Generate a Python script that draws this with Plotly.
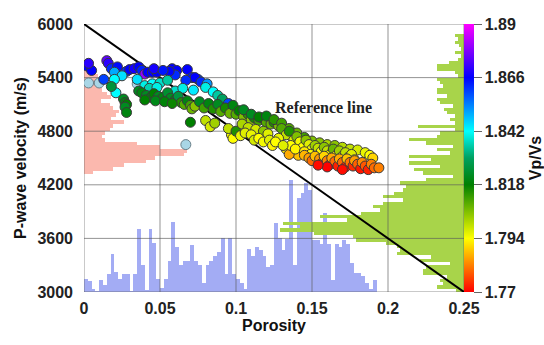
import numpy as np
import plotly.graph_objects as go

# ---------------- data ----------------
x_ticks = [0, 0.05, 0.1, 0.15, 0.2, 0.25]
x_ticktext = ["0", "0.05", "0.1", "0.15", "0.2", "0.25"]
y_ticks = [3000, 3600, 4200, 4800, 5400, 6000]
cb_ticks = [1.77, 1.794, 1.818, 1.842, 1.866, 1.89]

# porosity histogram (bottom, blue): bin width 0.0025 starting at 0, top value in m/s
phi_bin = 0.0025
phi_hist_top = [3150, 3120, 3030, 3010, 3130, 3080, 3200, 3420, 3220, 3150,
                3200, 3200, 3010, 3200, 3700, 3300, 3020, 3700, 3550, 3150,
                3050, 3150, 3350, 3780, 3500, 3300, 3350, 3350, 3530, 3350,
                3300, 3100, 3300, 3350, 3400, 3450, 3600, 3200, 3600, 3200,
                3150, 3100, 3030, 3480, 3400, 3500, 3470, 3400, 3280, 3300,
                3770, 3600, 3470, 3590, 4250, 3300, 4050, 4110, 4220, 4140,
                3580, 3580, 3540, 3880, 3540, 3130, 3540, 3500, 3580, 3540,
                3320, 3210, 3210, 3180, 3100, 3030, 3130]

# velocity histogram (left, pink): bins of 40 m/s from 4320
pink_start, pink_bin = 4320, 40
pink_len = [0.006, 0.019, 0.026, 0.041, 0.047, 0.066, 0.068, 0.050, 0.035, 0.014,
            0.012, 0.014, 0.017, 0.019, 0.026, 0.018, 0.021, 0.023, 0.019, 0.017,
            0.011, 0.018, 0.015, 0.012, 0.009, 0.010, 0.010, 0.009, 0.006, 0.003]

# velocity histogram (right, green): bins of 37.5 m/s from 3000, measured leftwards from 0.25
green_start, green_bin = 3000, 37.5
green_len = [0.005, 0.018, 0.014, 0.016, 0.011, 0.027, 0.027, 0.025, 0.009, 0.029, 0.022,
             0.044, 0.042, 0.044, 0.051, 0.071, 0.073, 0.099, 0.121, 0.108, 0.119,
             0.077, 0.095, 0.068, 0.055, 0.060, 0.053, 0.040, 0.053, 0.046, 0.040,
             0.038, 0.042, 0.025, 0.007, 0.027, 0.033, 0.016, 0.036, 0.022, 0.036,
             0.009, 0.018, 0.007, 0.025, 0.036, 0.018, 0.016, 0.006, 0.030, 0.006,
             0.009, 0.006, 0.011, 0.013, 0.007, 0.016, 0.018, 0.011, 0.018, 0.018,
             0.014, 0.016, 0.018, 0.004, 0.006, 0.018, 0.018, 0.010, 0.004, 0.002,
             0.006, 0.002, 0.003, 0.006, 0.004, 0.006]

# reference line end points
ref_phi = [0.0, 0.25]
ref_vp = [6000, 3000]

# scatter points: porosity, Vp, Vp/Vs
pts = [
    # blue upper band
    (0.002, 5530, 1.866), (0.005, 5480, 1.866), (0.003, 5560, 1.870), (0.015, 5590, 1.875),
    (0.016, 5560, 1.870), (0.018, 5500, 1.862), (0.022, 5520, 1.865), (0.028, 5470, 1.862),
    (0.030, 5490, 1.866), (0.033, 5500, 1.868), (0.036, 5520, 1.866), (0.038, 5480, 1.863),
    (0.040, 5440, 1.880), (0.042, 5460, 1.866), (0.045, 5460, 1.866), (0.048, 5460, 1.866),
    (0.020, 5460, 1.850), (0.025, 5420, 1.845), (0.013, 5380, 1.860), (0.046, 5500, 1.868),
    (0.058, 5500, 1.866), (0.061, 5480, 1.866), (0.068, 5490, 1.866), (0.071, 5400, 1.864),
    (0.075, 5380, 1.860), (0.073, 5400, 1.866), (0.077, 5350, 1.862), (0.081, 5330, 1.852),
    (0.067, 5370, 1.862), (0.060, 5430, 1.862), (0.056, 5470, 1.866), (0.052, 5480, 1.864),
    # cyan band
    (0.020, 5380, 1.842), (0.035, 5380, 1.845), (0.040, 5310, 1.840), (0.045, 5330, 1.842),
    (0.043, 5280, 1.836), (0.050, 5340, 1.838), (0.048, 5290, 1.840), (0.055, 5370, 1.835),
    (0.060, 5250, 1.838), (0.065, 5280, 1.840), (0.072, 5260, 1.844), (0.080, 5290, 1.840),
    (0.085, 5240, 1.842), (0.088, 5200, 1.835), (0.091, 5160, 1.830), (0.095, 5110, 1.860),
    (0.021, 5230, 1.842),
    # green cluster
    (0.018, 5300, 1.825), (0.036, 5250, 1.822), (0.038, 5230, 1.820), (0.041, 5200, 1.822),
    (0.044, 5180, 1.820), (0.046, 5220, 1.818), (0.049, 5190, 1.822), (0.052, 5180, 1.820),
    (0.055, 5230, 1.824), (0.057, 5170, 1.822), (0.060, 5150, 1.820), (0.062, 5190, 1.826),
    (0.064, 5120, 1.815), (0.066, 5100, 1.810), (0.068, 5140, 1.820), (0.070, 5090, 1.812),
    (0.071, 5050, 1.808), (0.073, 5080, 1.805), (0.070, 4900, 1.818), (0.026, 5160, 1.822),
    (0.027, 5120, 1.820), (0.028, 5100, 1.818), (0.027, 5070, 1.822), (0.028, 5010, 1.820),
    (0.040, 5150, 1.818), (0.047, 5140, 1.821), (0.053, 5130, 1.819), (0.058, 5110, 1.817),
    (0.076, 5130, 1.822), (0.079, 5060, 1.812), (0.082, 5110, 1.820), (0.085, 5050, 1.815),
    (0.088, 5100, 1.822), (0.090, 5020, 1.810), (0.093, 5060, 1.816), (0.096, 5000, 1.808),
    (0.098, 5090, 1.820), (0.100, 4990, 1.810), (0.102, 5030, 1.818), (0.105, 4960, 1.806),
    (0.108, 4990, 1.814), (0.110, 4930, 1.804), (0.112, 4950, 1.816), (0.115, 4920, 1.812),
    (0.117, 4950, 1.818), (0.120, 4900, 1.810), (0.123, 4880, 1.808), (0.125, 4900, 1.815),
    (0.128, 4860, 1.806),
    (0.105, 5040, 1.822), (0.110, 4990, 1.822), (0.115, 4960, 1.818), (0.120, 4970, 1.820),
    (0.125, 4930, 1.814), (0.130, 4890, 1.812), (0.135, 4830, 1.810), (0.140, 4780, 1.808),
    (0.145, 4730, 1.812), (0.150, 4690, 1.806), (0.155, 4670, 1.805), (0.160, 4650, 1.802),
    (0.165, 4640, 1.805), (0.170, 4620, 1.801), (0.175, 4600, 1.800), (0.180, 4590, 1.798),
    (0.185, 4560, 1.796), (0.188, 4530, 1.794), (0.190, 4500, 1.790),
    # yellowish lower part
    (0.080, 4920, 1.800), (0.083, 4850, 1.798), (0.086, 4890, 1.803), (0.097, 4760, 1.795),
    (0.098, 4720, 1.794), (0.095, 4830, 1.800), (0.100, 4800, 1.815), (0.103, 4750, 1.796),
    (0.104, 4880, 1.802), (0.108, 4840, 1.800), (0.113, 4820, 1.798), (0.118, 4800, 1.805),
    (0.121, 4770, 1.797),
    (0.106, 4780, 1.797), (0.110, 4760, 1.796), (0.112, 4700, 1.798), (0.115, 4720, 1.794),
    (0.118, 4680, 1.795), (0.122, 4700, 1.797), (0.124, 4640, 1.793), (0.133, 4600, 1.792),
    (0.138, 4560, 1.790), (0.141, 4530, 1.788), (0.135, 4540, 1.786),
    (0.130, 4830, 1.810), (0.133, 4760, 1.800), (0.135, 4800, 1.815), (0.138, 4700, 1.797),
    (0.140, 4740, 1.806), (0.142, 4680, 1.795), (0.144, 4620, 1.794), (0.146, 4700, 1.805),
    (0.148, 4650, 1.797), (0.150, 4600, 1.795), (0.152, 4640, 1.803), (0.154, 4610, 1.800),
    (0.156, 4570, 1.794), (0.158, 4620, 1.805), (0.160, 4580, 1.800), (0.162, 4540, 1.796),
    (0.164, 4600, 1.808), (0.166, 4530, 1.794), (0.168, 4580, 1.803), (0.170, 4520, 1.796),
    (0.172, 4560, 1.800), (0.174, 4510, 1.794), (0.176, 4540, 1.797), (0.178, 4480, 1.793),
    (0.136, 4640, 1.794), (0.139, 4600, 1.793), (0.145, 4570, 1.792), (0.149, 4540, 1.794),
    (0.128, 4720, 1.796), (0.126, 4680, 1.794), (0.131, 4640, 1.797),
    # orange / red tail
    (0.145, 4530, 1.787), (0.148, 4500, 1.785), (0.150, 4470, 1.780), (0.152, 4520, 1.788),
    (0.155, 4490, 1.784), (0.157, 4450, 1.775), (0.158, 4520, 1.790), (0.160, 4470, 1.782),
    (0.162, 4430, 1.772), (0.163, 4500, 1.786), (0.165, 4460, 1.780), (0.167, 4410, 1.773),
    (0.168, 4490, 1.786), (0.170, 4450, 1.780), (0.172, 4400, 1.772), (0.173, 4490, 1.788),
    (0.175, 4450, 1.781), (0.177, 4410, 1.774), (0.178, 4470, 1.785), (0.180, 4430, 1.779),
    (0.182, 4380, 1.772), (0.183, 4450, 1.783), (0.185, 4410, 1.778), (0.187, 4370, 1.773),
    (0.189, 4430, 1.782), (0.191, 4390, 1.780), (0.194, 4390, 1.782), (0.160, 4400, 1.770),
    (0.170, 4370, 1.771), (0.154, 4420, 1.771),
]
pt_phi = [p[0] for p in pts]
pt_vp = [p[1] for p in pts]
pt_ratio = [p[2] for p in pts]

# pale points (separate symbol colour)
pale_phi = [0.003, 0.010, 0.035, 0.067, 0.097]
pale_vp = [5340, 5340, 5330, 4650, 5040]

# ---------------- figure ----------------
FONT = "Liberation Sans, Arial, sans-serif"
fig = go.Figure()

phi_centers = np.arange(len(phi_hist_top)) * phi_bin + phi_bin / 2
fig.add_trace(go.Bar(x=phi_centers, y=np.array(phi_hist_top) - 3000, base=3000,
                     width=phi_bin, marker=dict(color="#a3acf4", line=dict(width=0)),
                     showlegend=False, hoverinfo="skip"))

pink_centers = pink_start + np.arange(len(pink_len)) * pink_bin + pink_bin / 2
fig.add_trace(go.Bar(y=pink_centers, x=pink_len, base=0, orientation="h",
                     width=pink_bin, marker=dict(color="#fbb8ae", line=dict(width=0)),
                     showlegend=False, hoverinfo="skip"))

green_centers = green_start + np.arange(len(green_len)) * green_bin + green_bin / 2
fig.add_trace(go.Bar(y=green_centers, x=-np.array(green_len), base=0.25, orientation="h",
                     width=green_bin, marker=dict(color="#a8d44a", line=dict(width=0)),
                     showlegend=False, hoverinfo="skip"))

# grid lines above histograms
gx, gy = [], []
for xv in x_ticks:
    gx += [xv, xv, None]
    gy += [y_ticks[0], y_ticks[-1], None]
for yv in y_ticks:
    gx += [x_ticks[0], x_ticks[-1], None]
    gy += [yv, yv, None]
fig.add_trace(go.Scatter(x=gx, y=gy, mode="lines",
                         line=dict(color="rgba(90,90,90,0.65)", width=1),
                         showlegend=False, hoverinfo="skip"))

fig.add_trace(go.Scatter(x=ref_phi, y=ref_vp, mode="lines",
                         line=dict(color="black", width=2),
                         showlegend=False, hoverinfo="skip"))

colorscale = [
    [0.0, "#ff0000"], [0.1, "#ff8000"], [0.2, "#ffff00"], [0.3, "#80c000"],
    [0.4, "#008000"], [0.5, "#00a060"], [0.6, "#00ffff"], [0.8, "#0000ff"],
    [0.9, "#8000ff"], [1.0, "#ff00ff"],
]

fig.add_trace(go.Scatter(x=pale_phi, y=pale_vp, mode="markers",
                         marker=dict(size=10, color="#a9d6e6", line=dict(color="#6a7f88", width=1)),
                         showlegend=False))

fig.add_trace(go.Scatter(
    x=pt_phi, y=pt_vp, mode="markers", showlegend=False,
    marker=dict(size=10, color=pt_ratio, cmin=1.77, cmax=1.89, colorscale=colorscale,
                line=dict(color="#3a3a3a", width=1),
                colorbar=dict(
                    tickvals=cb_ticks, ticktext=[str(t) for t in cb_ticks],
                    ticks="outside", ticklen=8, tickcolor="#666",
                    thickness=10, len=1, lenmode="fraction", y=0.5, yanchor="middle",
                    x=1.0, xanchor="left", xpad=0, ypad=0, outlinewidth=0,
                    tickfont=dict(family=FONT, size=16, color="#222", weight="bold"),
                    title=dict(text="Vp/Vs", side="right",
                               font=dict(family=FONT, size=16, color="#111", weight="bold")),
                ))))

fig.add_annotation(x=0.1576, y=5070, text="Reference line", showarrow=False,
                   font=dict(family="Liberation Serif, Times New Roman, serif", size=16,
                             color="#222", weight="bold"))

fig.update_layout(
    width=544, height=345,
    margin=dict(l=84, r=80, t=24, b=53, autoexpand=False),
    paper_bgcolor="white", plot_bgcolor="white",
    barmode="overlay", bargap=0,
    xaxis=dict(range=[0, 0.25], tickvals=x_ticks, ticktext=x_ticktext,
               showgrid=False, zeroline=False, showline=False, ticks="",
               ticklabelstandoff=5,
               tickfont=dict(family=FONT, size=16, color="#222", weight="bold"),
               title=dict(text="Porosity", standoff=2,
                          font=dict(family=FONT, size=16, color="#111", weight="bold"))),
    yaxis=dict(range=[3000, 6000], tickvals=y_ticks,
               showgrid=False, zeroline=False, showline=False, ticks="",
               ticklabelstandoff=10,
               tickfont=dict(family=FONT, size=16, color="#222", weight="bold"),
               title=dict(text="P-wave velocity (m/s)", standoff=6,
                          font=dict(family=FONT, size=16, color="#111", weight="bold"))),
)

fig.write_html("out.html")
